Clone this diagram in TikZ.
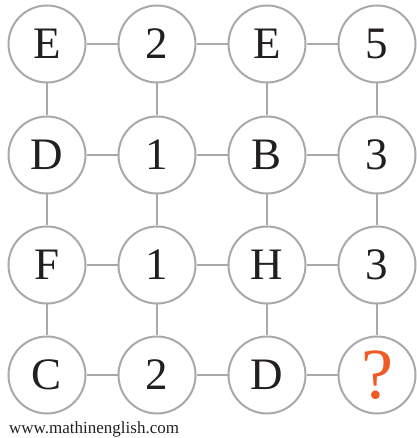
\documentclass[tikz,border=0pt]{standalone}
\usepackage{fontspec}
\setmainfont{Liberation Serif}
\definecolor{ringgray}{HTML}{A7A9AC}
\definecolor{qorange}{HTML}{F15A24}
\definecolor{txt}{HTML}{231F20}
\tikzset{
  cell/.style={circle, draw=ringgray, line width=2pt, fill=white, minimum size=77pt, inner sep=0pt, font=\fontsize{45}{45}\selectfont, text=txt},
  link/.style={draw=ringgray, line width=2pt},
}
\begin{document}
\begin{tikzpicture}[x=1pt,y=1pt]
\useasboundingbox (0,0) rectangle (416,438);
\foreach \r/\yy in {1/394,2/283,3/173,4/63}{
  \foreach \c/\xx in {1/47,2/157,3/267,4/377}{
    \coordinate (p\r\c) at (\xx,\yy);
  }
}
\node[cell] (n11) at (p11) {E};
\node[cell] (n12) at (p12) {2};
\node[cell] (n13) at (p13) {E};
\node[cell] (n14) at (p14) {5};
\node[cell] (n21) at (p21) {D};
\node[cell] (n22) at (p22) {1};
\node[cell] (n23) at (p23) {B};
\node[cell] (n24) at (p24) {3};
\node[cell] (n31) at (p31) {F};
\node[cell] (n32) at (p32) {1};
\node[cell] (n33) at (p33) {H};
\node[cell] (n34) at (p34) {3};
\node[cell] (n41) at (p41) {C};
\node[cell] (n42) at (p42) {2};
\node[cell] (n43) at (p43) {D};
\node[cell, text=qorange, font=\fontsize{72}{72}\selectfont] (n44) at (p44) {?};
\foreach \r in {1,2,3,4}{
  \draw[link] (n\r1) -- (n\r2);
  \draw[link] (n\r2) -- (n\r3);
  \draw[link] (n\r3) -- (n\r4);
}
\foreach \c in {1,2,3,4}{
  \draw[link] (n1\c) -- (n2\c);
  \draw[link] (n2\c) -- (n3\c);
  \draw[link] (n3\c) -- (n4\c);
}
\node[anchor=base west, inner sep=0pt, font=\fontsize{17}{17}\selectfont, text=txt] (site) at (9,5) {www.mathinenglish.com};
\end{tikzpicture}
\end{document}
